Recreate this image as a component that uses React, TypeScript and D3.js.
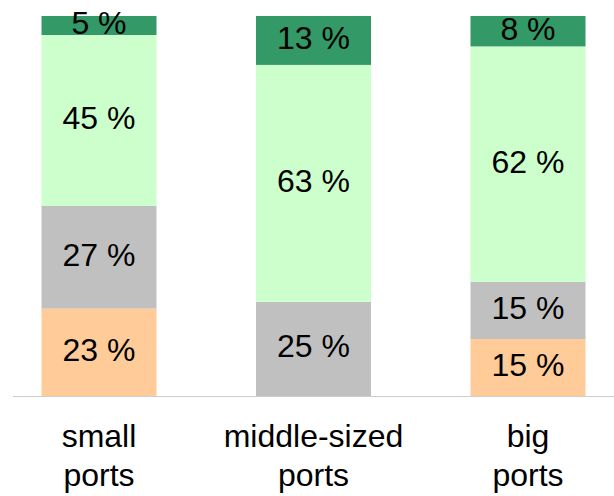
import { useEffect, useRef } from "react";
import * as d3 from "d3";

const CATEGORIES = ["small ports", "middle-sized ports", "big ports"];
const CATEGORY_LINES = [["small", "ports"], ["middle-sized", "ports"], ["big", "ports"]];

const SERIES = ["orange", "grey", "lightGreen", "darkGreen"];
const SERIES_COLORS = ["#ffcc99", "#c0c0c0", "#ccffcc", "#339966"];

const ORANGE = [23, 0, 15];
const GREY = [27, 25, 15];
const LIGHT_GREEN = [45, 63, 62];
const DARK_GREEN = [5, 13, 8];

export default function App() {
  const ref = useRef<HTMLDivElement>(null);

  useEffect(() => {
    if (!ref.current) return;
    const container = ref.current;
    d3.select(container).select("svg").remove();

    const width = 614;
    const height = 496;
    const baseline = 396;
    const top = 16;
    const barWidth = 115;

    const rows = CATEGORIES.map((c, i) => {
      const vals = [ORANGE[i], GREY[i], LIGHT_GREEN[i], DARK_GREEN[i]];
      const total = d3.sum(vals);
      const row: Record<string, any> = { category: c, lines: CATEGORY_LINES[i] };
      SERIES.forEach((s, j) => {
        row[s] = (vals[j] / total) * 100;
        row[s + "Label"] = vals[j];
      });
      return row;
    });

    const stacked = d3.stack<any>().keys(SERIES)(rows);

    const x = d3.scalePoint().domain(CATEGORIES).range([99, 528]);
    const y = d3.scaleLinear().domain([0, 100]).range([baseline, top]);
    const color = d3.scaleOrdinal<string, string>().domain(SERIES).range(SERIES_COLORS);

    const svg = d3.create("svg")
      .attr("width", width)
      .attr("height", height)
      .attr("viewBox", [0, 0, width, height])
      .attr("style", "display:block; font-family: 'Liberation Sans', Arial, sans-serif;");

    svg.append("rect").attr("width", width).attr("height", height).attr("fill", "#fff");

    const layers = svg.append("g")
      .selectAll("g")
      .data(stacked)
      .join("g")
        .attr("fill", d => color(d.key));

    layers.selectAll("rect")
      .data(d => d.filter(p => p[1] - p[0] > 0))
      .join("rect")
        .attr("x", d => (x(d.data.category) ?? 0) - barWidth / 2)
        .attr("width", barWidth)
        .attr("y", d => y(d[1]))
        .attr("height", d => y(d[0]) - y(d[1]));

    const labels = svg.append("g")
      .attr("font-size", 32)
      .attr("fill", "#000")
      .attr("text-anchor", "middle");

    for (const layer of stacked) {
      labels.append("g")
        .selectAll("text")
        .data(layer.filter(p => p[1] - p[0] > 0))
        .join("text")
          .attr("x", d => x(d.data.category) ?? 0)
          .attr("y", d => (y(d[0]) + y(d[1])) / 2)
          .attr("dy", "0.26em")
          .text(d => `${d.data[layer.key + "Label"]} %`);
    }

    svg.append("line")
      .attr("x1", 13)
      .attr("x2", width)
      .attr("y1", baseline + 0.5)
      .attr("y2", baseline + 0.5)
      .attr("stroke", "#cccccc")
      .attr("stroke-width", 1);

    svg.append("g")
      .attr("font-size", 32)
      .attr("fill", "#000")
      .attr("text-anchor", "middle")
      .selectAll("text")
      .data(rows)
      .join("text")
        .attr("x", d => x(d.category) ?? 0)
        .attr("y", 447)
        .call(t => t.selectAll("tspan")
          .data((d: any) => d.lines as string[])
          .join("tspan")
            .attr("x", function () {
              const parent = (this as SVGTSpanElement).parentNode as SVGTextElement;
              return parent.getAttribute("x");
            })
            .attr("dy", (_, i) => (i === 0 ? 0 : 39))
            .text(l => l));

    container.append(svg.node()!);
  }, []);

  return <div ref={ref} style={{ position: "fixed", left: 0, top: 0 }} />;
}
